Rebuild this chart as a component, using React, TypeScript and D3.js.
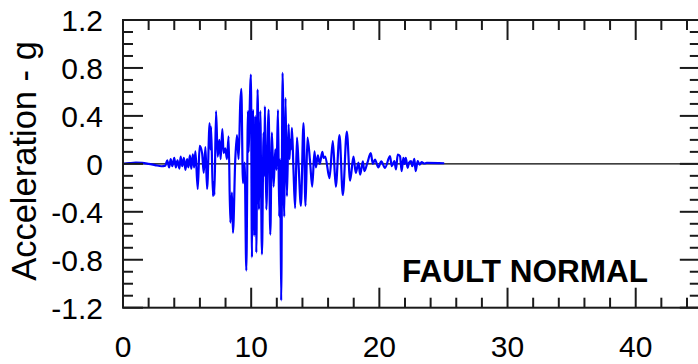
import React from "react";
import * as d3 from "d3";

// Time (s) of each read-off turning point of the trace
const timeSec = [
  0, 0.5, 1.0, 1.5, 2.0, 2.5, 3.0, 3.3, 3.45, 3.6, 3.72, 3.85, 4.0, 4.12, 4.25, 4.4, 4.5, 4.62, 4.75, 4.87,
  5.0, 5.1, 5.22, 5.33, 5.45, 5.55, 5.65, 5.83, 5.98, 6.17, 6.3, 6.43, 6.56, 6.76, 6.82, 6.87, 7.02, 7.08, 7.13,
  7.26, 7.39, 7.52, 7.62, 7.75, 7.85, 7.98, 8.11, 8.24, 8.37, 8.5, 8.58, 8.76, 8.89, 9.02, 9.15, 9.23, 9.36,
  9.49, 9.62, 9.75, 9.8, 9.85, 9.98, 10.06, 10.14, 10.24, 10.32, 10.4, 10.5, 10.61, 10.71, 10.84, 10.97, 11.02,
  11.07, 11.18, 11.36, 11.49, 11.62, 11.75, 11.88, 11.98, 12.09, 12.19, 12.26, 12.34, 12.45, 12.58, 12.68,
  12.79, 12.92, 12.99, 13.05, 13.11, 13.18, 13.3, 13.43, 13.57, 13.69, 13.88, 14.08, 14.24, 14.39, 14.6,
  14.76, 14.94, 15.05, 15.2, 15.35, 15.55, 15.65, 15.78, 16.11, 16.37, 16.6, 16.89, 17.15, 17.46, 17.72,
  17.98, 18.16, 18.37, 18.5, 18.71, 18.83, 19.07, 19.33, 19.49, 19.66, 19.92, 20.15, 20.44, 20.83, 20.97,
  21.17, 21.3, 21.43, 21.61, 21.74, 21.87, 21.96, 22.06, 22.21, 22.31, 22.47, 22.57, 22.73, 22.83, 22.99,
  23.14, 23.3, 23.51, 23.69, 25.06,
];

// Acceleration (g) at those times
const accelG = [
  0, 0.006, 0.01, 0.008, 0.0, -0.01, -0.02, -0.015, 0.03, -0.03, 0.04, -0.02, 0.05, -0.03, 0.03, -0.04, 0.06, -0.02, 0.05, -0.05,
  0.04, -0.03, 0.07, -0.04, 0.08, -0.03, 0.105, -0.21, 0.15, 0.09, -0.075, 0.14, -0.21, 0.34, 0.12, 0.31, -0.27, -0.15, -0.26,
  0.44, 0.06, 0.2, 0.04, 0.29, 0.09, 0.13, 0.04, 0.23, -0.49, -0.24, -0.575, 0.04, 0.24, 0.04, 0.51, 0.625, -0.16,
  0.01, -0.89, 0.44, 0.1, 0.31, 0.745, -0.78, 0.45, -0.6, 0.4, -0.74, 0.62, -0.38, 0.44, -0.755, 0.26, -0.1,
  0.48, -0.38, 0.45, -0.59, 0.26, -0.19, 0.12, -0.05, 0.45, -0.44, 0.04, -1.14, 0.76, -0.44, 0.55,
  -0.27, 0.33, 0.04, 0.2, 0.12, 0.3, -0.05, -0.37, 0.22, 0.01, -0.35, 0.34, -0.35, 0.22, 0.01,
  -0.19, 0.105, -0.03, 0.07, 0.0, 0.1, 0.05, 0.06, -0.12, 0.19, -0.19, 0.24, -0.26, 0.27, -0.14,
  0.06, -0.075, 0.01, -0.09, 0.02, -0.06, 0.01, 0.09, 0.0, 0.036, -0.03, 0.02, -0.033, 0.064, -0.02,
  0.022, -0.047, 0.078, 0.064, -0.061, 0.05, 0.0, 0.05, -0.033, 0.008, 0.022, -0.02, 0.042, -0.061, 0.022,
  -0.006, 0.014, 0.003, 0.008, 0.005,
];

const yMajorTicks = [-1.2, -0.8, -0.4, 0, 0.4, 0.8, 1.2];
const yTickLabels = ["-1.2", "-0.8", "-0.4", "0", "0.4", "0.8", "1.2"];
const xMajorTicks = [0, 10, 20, 30, 40];
const xTickLabels = ["0", "10", "20", "30", "40"];
const yAxisTitle = "Acceleration - g";
const annotation = "FAULT NORMAL";

const W = 698;
const H = 364;
const left = 123;
const right = 699.8;
const top = 20;
const bottom = 307.7;

export default function App() {
  const x = d3.scaleLinear().domain([0, 45]).range([left, right]);
  const y = d3.scaleLinear().domain([-1.2, 1.2]).range([bottom, top]);

  const pts: [number, number][] = timeSec.map((t, i) => [t, accelG[i]]);
  const line = d3
    .line<[number, number]>()
    .x((d) => x(d[0]))
    .y((d) => y(d[1]))
    .curve(d3.curveMonotoneX);

  const xMinor = d3.range(0, 45.001, 2).filter((v) => v % 10 !== 0);
  const yMinor = d3.range(-12, 12.001, 1).map((v) => v / 10).filter((v) => Math.abs(Math.round(v * 10) % 4) !== 0);

  const axisColor = "#1a1a1a";
  const font = "'Liberation Sans', Arial, sans-serif";
  const major = 20;
  const minor = 10;

  return (
    <svg width={W} height={H} style={{ position: "absolute", left: 0, top: 0 }} fontFamily={font}>
      <rect x={0} y={0} width={W} height={H} fill="#fff" />
      {/* zero line */}
      <line x1={left} x2={right} y1={y(0)} y2={y(0)} stroke="#000" strokeWidth={1.2} />
      {/* trace */}
      <path d={line(pts) || ""} fill="none" stroke="#0000ff" strokeWidth={2.2} strokeLinejoin="round" />
      {/* frame */}
      <rect x={left} y={top} width={right - left} height={bottom - top} fill="none" stroke={axisColor} strokeWidth={2} />
      {/* x ticks */}
      {xMajorTicks.map((v) => (
        <g key={"xM" + v}>
          <line x1={x(v)} x2={x(v)} y1={bottom} y2={bottom - major} stroke={axisColor} strokeWidth={2} />
          <line x1={x(v)} x2={x(v)} y1={top} y2={top + major} stroke={axisColor} strokeWidth={2} />
        </g>
      ))}
      {xMinor.map((v) => (
        <g key={"xm" + v}>
          <line x1={x(v)} x2={x(v)} y1={bottom} y2={bottom - minor} stroke={axisColor} strokeWidth={2} />
          <line x1={x(v)} x2={x(v)} y1={top} y2={top + minor} stroke={axisColor} strokeWidth={2} />
        </g>
      ))}
      {/* y ticks */}
      {yMajorTicks.map((v) => (
        <g key={"yM" + v}>
          <line x1={left} x2={left + major} y1={y(v)} y2={y(v)} stroke={axisColor} strokeWidth={2} />
          <line x1={right} x2={right - major} y1={y(v)} y2={y(v)} stroke={axisColor} strokeWidth={2} />
        </g>
      ))}
      {yMinor.map((v) => (
        <g key={"ym" + v}>
          <line x1={left} x2={left + minor} y1={y(v)} y2={y(v)} stroke={axisColor} strokeWidth={2} />
          <line x1={right} x2={right - minor} y1={y(v)} y2={y(v)} stroke={axisColor} strokeWidth={2} />
        </g>
      ))}
      {/* tick labels */}
      {yMajorTicks.map((v, i) => (
        <text key={"yl" + v} x={103} y={y(v) + 11} textAnchor="end" fontSize={30} fill="#000">
          {yTickLabels[i]}
        </text>
      ))}
      {xMajorTicks.map((v, i) => (
        <text key={"xl" + v} x={x(v)} y={356.5} textAnchor="middle" fontSize={30} fill="#000">
          {xTickLabels[i]}
        </text>
      ))}
      <text
        transform={`translate(36, 161) rotate(-90)`}
        textAnchor="middle"
        fontSize={34.5}
        fill="#000"
      >
        {yAxisTitle}
      </text>
      <text x={648} y={282} textAnchor="end" fontSize={31.5} fontWeight="bold" fill="#000">
        {annotation}
      </text>
    </svg>
  );
}
